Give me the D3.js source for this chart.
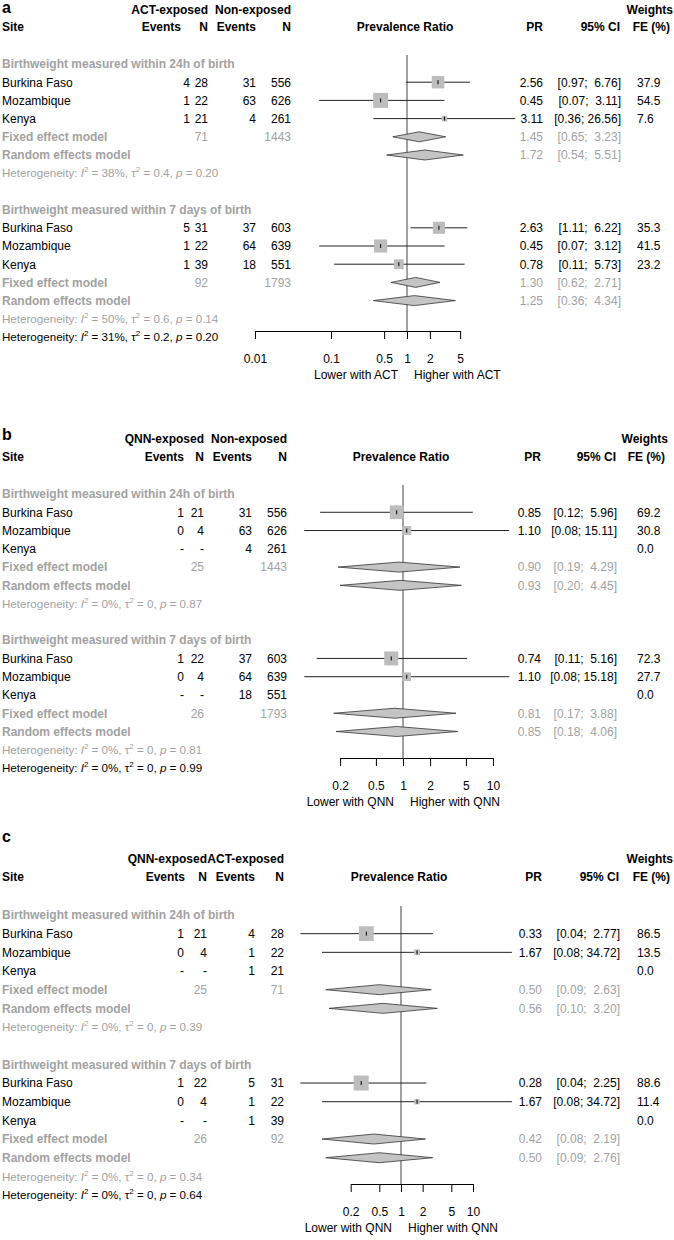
<!DOCTYPE html>
<html>
<head>
<meta charset="utf-8">
<script src="https://cdn.jsdelivr.net/npm/d3@7"></script>
<style>
body { margin: 0; background: #fff; }
svg text { font-family: "Liberation Sans", Arial, sans-serif; font-size: 12px; white-space: pre; }
</style>
</head>
<body>
<div id="chart"></div>
<script>
// ---- data ----
var sites = ["Burkina Faso", "Mozambique", "Kenya"];
var subgroups = ["Birthweight measured within 24h of birth", "Birthweight measured within 7 days of birth"];

// panel a: ACT-exposed vs non-exposed
var aGroups = ["ACT-exposed", "Non-exposed"];
var aDirection = ["Lower with ACT", "Higher with ACT"];
var aEvents1 = [[4, 1, 1], [5, 1, 1]];
var aN1 = [[28, 22, 21], [31, 22, 39]];
var aEvents2 = [[31, 63, 4], [37, 64, 18]];
var aN2 = [[556, 626, 261], [603, 639, 551]];
var aPR = [[2.56, 0.45, 3.11], [2.63, 0.45, 0.78]];
var aLower = [[0.97, 0.07, 0.36], [1.11, 0.07, 0.11]];
var aUpper = [[6.76, 3.11, 26.56], [6.22, 3.12, 5.73]];
var aWeight = [[37.9, 54.5, 7.6], [35.3, 41.5, 23.2]];
var aFixed = [[1.45, 0.65, 3.23], [1.30, 0.62, 2.71]];
var aRandom = [[1.72, 0.54, 5.51], [1.25, 0.36, 4.34]];
var aTotal1 = [71, 92];
var aTotal2 = [1443, 1793];
var aHet = [["38%", "0.4", "0.20"], ["50%", "0.6", "0.14"]];
var aHetAll = ["31%", "0.2", "0.20"];
var aTicks = [0.01, 0.1, 0.5, 1, 2, 5];

// panel b: QNN-exposed vs non-exposed
var bGroups = ["QNN-exposed", "Non-exposed"];
var bDirection = ["Lower with QNN", "Higher with QNN"];
var bEvents1 = [[1, 0, null], [1, 0, null]];
var bN1 = [[21, 4, null], [22, 4, null]];
var bEvents2 = [[31, 63, 4], [37, 64, 18]];
var bN2 = [[556, 626, 261], [603, 639, 551]];
var bPR = [[0.85, 1.10, null], [0.74, 1.10, null]];
var bLower = [[0.12, 0.08, null], [0.11, 0.08, null]];
var bUpper = [[5.96, 15.11, null], [5.16, 15.18, null]];
var bWeight = [[69.2, 30.8, 0.0], [72.3, 27.7, 0.0]];
var bFixed = [[0.90, 0.19, 4.29], [0.81, 0.17, 3.88]];
var bRandom = [[0.93, 0.20, 4.45], [0.85, 0.18, 4.06]];
var bTotal1 = [25, 26];
var bTotal2 = [1443, 1793];
var bHet = [["0%", "0", "0.87"], ["0%", "0", "0.81"]];
var bHetAll = ["0%", "0", "0.99"];
var bTicks = [0.2, 0.5, 1, 2, 5, 10];

// panel c: QNN-exposed vs ACT-exposed
var cGroups = ["QNN-exposed", "ACT-exposed"];
var cDirection = ["Lower with QNN", "Higher with QNN"];
var cEvents1 = [[1, 0, null], [1, 0, null]];
var cN1 = [[21, 4, null], [22, 4, null]];
var cEvents2 = [[4, 1, 1], [5, 1, 1]];
var cN2 = [[28, 22, 21], [31, 22, 39]];
var cPR = [[0.33, 1.67, null], [0.28, 1.67, null]];
var cLower = [[0.04, 0.08, null], [0.04, 0.08, null]];
var cUpper = [[2.77, 34.72, null], [2.25, 34.72, null]];
var cWeight = [[86.5, 13.5, 0.0], [88.6, 11.4, 0.0]];
var cFixed = [[0.50, 0.09, 2.63], [0.42, 0.08, 2.19]];
var cRandom = [[0.56, 0.10, 3.20], [0.50, 0.09, 2.76]];
var cTotal1 = [25, 26];
var cTotal2 = [71, 92];
var cHet = [["0%", "0", "0.39"], ["0%", "0", "0.34"]];
var cHetAll = ["0%", "0", "0.64"];
var cTicks = [0.2, 0.5, 1, 2, 5, 10];

var panels = [
	{ label: "a", groups: aGroups, direction: aDirection, events1: aEvents1, n1: aN1, events2: aEvents2, n2: aN2,
		pr: aPR, lower: aLower, upper: aUpper, weight: aWeight, fixed: aFixed, random: aRandom,
		total1: aTotal1, total2: aTotal2, het: aHet, hetAll: aHetAll, ticks: aTicks },
	{ label: "b", groups: bGroups, direction: bDirection, events1: bEvents1, n1: bN1, events2: bEvents2, n2: bN2,
		pr: bPR, lower: bLower, upper: bUpper, weight: bWeight, fixed: bFixed, random: bRandom,
		total1: bTotal1, total2: bTotal2, het: bHet, hetAll: bHetAll, ticks: bTicks },
	{ label: "c", groups: cGroups, direction: cDirection, events1: cEvents1, n1: cN1, events2: cEvents2, n2: cN2,
		pr: cPR, lower: cLower, upper: cUpper, weight: cWeight, fixed: cFixed, random: cRandom,
		total1: cTotal1, total2: cTotal2, het: cHet, hetAll: cHetAll, ticks: cTicks }
];

// ---- layout (pixel positions per panel) ----
var layouts = [
	{ labelY: 8, head1: 10, head2: 27, row0: 64, step: 18.2, axisY: 331, x1: 407, ppd: 76, boxMax: 15,
		ev1: 190, ev1Head: 181, n1: 208, ev2: 256, n2: 291, pr: 543, ci: 621, wt: 637, wtHead: 670 },
	{ labelY: 435, head1: 439, head2: 457, row0: 494, step: 18.27, axisY: 758, x1: 403, ppd: 90, boxMax: 14,
		ev1: 184, ev1Head: 184, n1: 204, ev2: 252, n2: 287, pr: 541, ci: 617, wt: 637, wtHead: 665 },
	{ labelY: 837, head1: 859, head2: 877, row0: 915, step: 18.67, axisY: 1184, x1: 401, ppd: 72, boxMax: 15,
		ev1: 184, ev1Head: 185, n1: 207, ev2: 255, n2: 284, pr: 542, ci: 620, wt: 637, wtHead: 670 }
];

var grey = "#a2a2a2";

var svg = d3.select("#chart")
	.append("svg")
	.attr("width", 674)
	.attr("height", 1240);

//Plain text helper
var txt = function(g, x, y, s, anchor, color, bold) {
	return g.append("text")
		.attr("x", x)
		.attr("y", y)
		.attr("dy", "0.36em")
		.attr("text-anchor", anchor || "start")
		.attr("fill", color || "#000")
		.attr("font-weight", bold ? "bold" : null)
		.text(s);
};

var fmt2 = function(d) { return d.toFixed(2); };
var ciText = function(lo, hi) {
	var h = fmt2(hi);
	return "[" + fmt2(lo) + ";" + (h.length < 5 ? "  " : " ") + h + "]";
};

//Heterogeneity line with italic I, p and superscripts
var het = function(g, x, y, vals, color) {
	var t = g.append("text")
		.attr("x", x)
		.attr("y", y)
		.attr("dy", "0.36em")
		.attr("fill", color)
		.style("font-size", "11.6px");
	t.append("tspan").text("Heterogeneity: ");
	t.append("tspan").style("font-style", "italic").text("I");
	t.append("tspan").attr("dy", -5).style("font-size", "8px").text("2");
	t.append("tspan").attr("dy", 5).text(" = " + vals[0] + ", \u03c4");
	t.append("tspan").attr("dy", -5).style("font-size", "8px").text("2");
	t.append("tspan").attr("dy", 5).text(" = " + vals[1] + ", ");
	t.append("tspan").style("font-style", "italic").text("p");
	t.append("tspan").text(" = " + vals[2]);
};

var drawPanel = function(p, L) {
	var g = svg.append("g");
	var t0 = p.ticks[0], tn = p.ticks[p.ticks.length - 1];

	//Scales
	var x = d3.scaleLog()
		.domain([t0, tn])
		.range([L.x1 + L.ppd * Math.log10(t0), L.x1 + L.ppd * Math.log10(tn)]);
	var box = d3.scaleSqrt()
		.domain([0, d3.max(p.weight.flat())])
		.range([0, L.boxMax]);
	var rowY = function(grp, r) { return L.row0 + (grp * 8 + r) * L.step; };

	//Headers
	g.append("text")
		.attr("x", 2).attr("y", L.labelY).attr("dy", "0.3em")
		.attr("font-weight", "bold").style("font-size", "16px")
		.text(p.label);
	txt(g, L.n1, L.head1, p.groups[0], "end", "#000", true);
	txt(g, L.n2, L.head1, p.groups[1], "end", "#000", true);
	txt(g, L.wtHead + 3, L.head1, "Weights", "end", "#000", true);
	txt(g, 2, L.head2, "Site", "start", "#000", true);
	txt(g, L.ev1Head, L.head2, "Events", "end", "#000", true);
	txt(g, L.n1, L.head2, "N", "end", "#000", true);
	txt(g, L.ev2, L.head2, "Events", "end", "#000", true);
	txt(g, L.n2, L.head2, "N", "end", "#000", true);
	txt(g, L.x1 - 2, L.head2, "Prevalence Ratio", "middle", "#000", true);
	txt(g, L.pr, L.head2, "PR", "end", "#000", true);
	txt(g, L.ci - 1, L.head2, "95% CI", "end", "#000", true);
	txt(g, L.wtHead, L.head2, "FE (%)", "end", "#000", true);

	//Reference line at 1
	g.append("line")
		.attr("x1", x(1)).attr("x2", x(1))
		.attr("y1", L.row0 - 9).attr("y2", L.axisY)
		.attr("stroke", "#555").attr("stroke-width", 1.1);

	subgroups.forEach(function(name, k) {
		txt(g, 2, rowY(k, 0), name, "start", grey, true);

		sites.forEach(function(site, i) {
			var y = rowY(k, i + 1);
			txt(g, 2, y, site);
			txt(g, L.ev1, y, p.events1[k][i] == null ? "-" : p.events1[k][i], "end");
			txt(g, L.n1, y, p.n1[k][i] == null ? "-" : p.n1[k][i], "end");
			txt(g, L.ev2, y, p.events2[k][i], "end");
			txt(g, L.n2, y, p.n2[k][i], "end");
			txt(g, L.wt, y, p.weight[k][i].toFixed(1), "start");
			if (p.pr[k][i] == null) return;
			txt(g, L.pr, y, fmt2(p.pr[k][i]), "end");
			txt(g, L.ci, y, ciText(p.lower[k][i], p.upper[k][i]), "end");

			//CI line, box and centre tick
			g.append("line")
				.attr("x1", x(p.lower[k][i])).attr("x2", x(p.upper[k][i]))
				.attr("y1", y).attr("y2", y)
				.attr("stroke", "#222").attr("stroke-width", 1);
			var s = box(p.weight[k][i]);
			g.append("rect")
				.attr("x", x(p.pr[k][i]) - s / 2).attr("y", y - s / 2)
				.attr("width", s).attr("height", s)
				.attr("fill", "#bdbdbd");
			g.append("line")
				.attr("x1", x(p.pr[k][i])).attr("x2", x(p.pr[k][i]))
				.attr("y1", y - 2).attr("y2", y + 2)
				.attr("stroke", "#000").attr("stroke-width", 1);
		});

		//Pooled estimates
		[["Fixed effect model", p.fixed[k]], ["Random effects model", p.random[k]]].forEach(function(m, j) {
			var y = rowY(k, 4 + j);
			txt(g, 2, y, m[0], "start", grey, true);
			if (j === 0) {
				txt(g, L.n1, y, p.total1[k], "end", grey);
				txt(g, L.n2, y, p.total2[k], "end", grey);
			}
			txt(g, L.pr, y, fmt2(m[1][0]), "end", grey);
			txt(g, L.ci, y, ciText(m[1][1], m[1][2]), "end", grey);
			var h = 5;
			g.append("polygon")
				.attr("points", [
					[x(m[1][1]), y], [x(m[1][0]), y - h], [x(m[1][2]), y], [x(m[1][0]), y + h]
				].join(" "))
				.attr("fill", "#c4c4c4")
				.attr("stroke", "#333")
				.attr("stroke-width", 0.8);
		});

		het(g, 2, rowY(k, 6), p.het[k], grey);
	});

	het(g, 2, rowY(1, 7), p.hetAll, "#000");

	//Axis
	var axis = g.append("g")
		.attr("transform", "translate(0," + L.axisY + ")")
		.call(d3.axisBottom(x)
			.tickValues(p.ticks)
			.tickFormat(function(d) { return String(d); })
			.tickSize(8)
			.tickSizeOuter(0)
			.tickPadding(15));
	axis.selectAll("text")
		.style("font-size", "12px")
		.attr("font-family", null);
	axis.attr("font-family", null).attr("font-size", null);

	txt(g, x(1) - 9, L.axisY + 44, p.direction[0], "end");
	txt(g, x(1) + 7, L.axisY + 44, p.direction[1], "start");
};

panels.forEach(function(p, i) { drawPanel(p, layouts[i]); });
</script>
</body>
</html>
